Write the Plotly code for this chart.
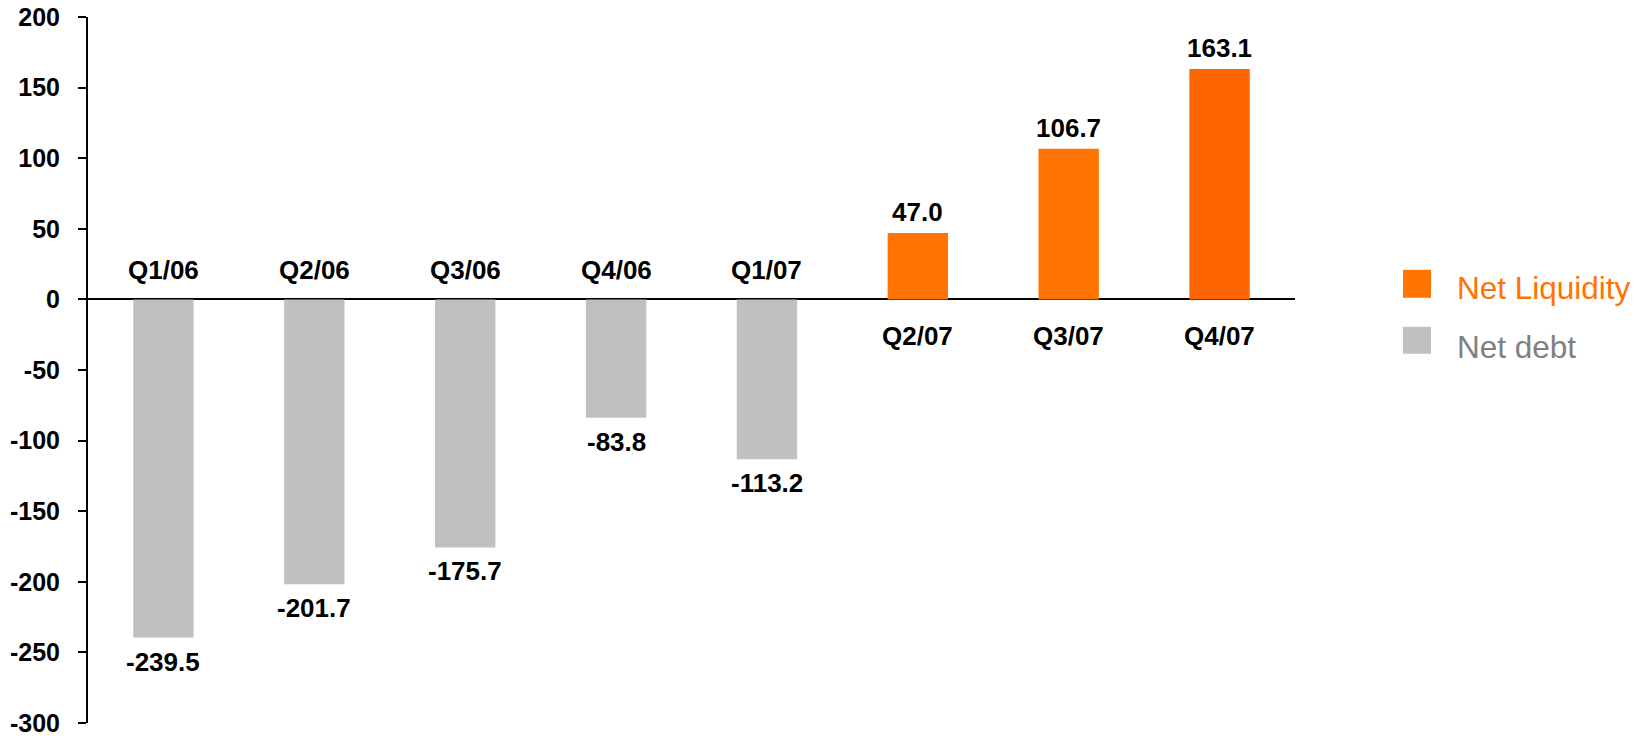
import plotly.graph_objects as go

categories = ["Q1/06", "Q2/06", "Q3/06", "Q4/06", "Q1/07", "Q2/07", "Q3/07", "Q4/07"]
net_debt = [-239.5, -201.7, -175.7, -83.8, -113.2, None, None, None]
net_liquidity = [None, None, None, None, None, 47.0, 106.7, 163.1]
liquidity_colors = ["#FF7300", "#FF7300", "#FF7300", "#FF7300", "#FF7300", "#FF7300", "#FF7300", "#FF6600"]
y_ticks = [-300, -250, -200, -150, -100, -50, 0, 50, 100, 150, 200]

GRAY = "#C0C0C0"
FONT = "Liberation Sans, Arial, Helvetica, sans-serif"

fig = go.Figure()
fig.add_trace(go.Bar(x=categories, y=net_debt, marker=dict(color=GRAY, line=dict(width=0)),
                     name="Net debt", showlegend=False, hoverinfo="x+y"))
fig.add_trace(go.Bar(x=categories, y=net_liquidity, marker=dict(color=liquidity_colors, line=dict(width=0)),
                     name="Net Liquidity", showlegend=False, hoverinfo="x+y"))

LBL = dict(family=FONT, size=26, color="black", weight="bold")
annotations = []
for i, cat in enumerate(categories):
    v = net_debt[i] if net_debt[i] is not None else net_liquidity[i]
    if v >= 0:
        annotations.append(dict(x=cat, y=v, text=f"{v:.1f}", showarrow=False, yanchor="bottom",
                                yshift=4, font=LBL))
        annotations.append(dict(x=cat, y=0, text=cat, showarrow=False, yanchor="top",
                                yshift=-20, font=LBL))
    else:
        annotations.append(dict(x=cat, y=v, text=f"{v:.1f}", showarrow=False, yanchor="top",
                                yshift=-7, font=LBL))
        annotations.append(dict(x=cat, y=0, text=cat, showarrow=False, yanchor="bottom",
                                yshift=12, font=LBL))

# legend (manual), positioned in absolute pixels converted to paper coords
L, R, T, B = 88, 1295, 17, 723.5
W, H = R - L, B - T
def px(xp):
    return (xp - L) / W
def py(yp):
    return (B - yp) / H

shapes = [
    dict(type="rect", xref="paper", yref="paper", x0=px(1403), x1=px(1431), y0=py(298), y1=py(270),
         fillcolor="#FF7500", line=dict(width=0)),
    dict(type="rect", xref="paper", yref="paper", x0=px(1403), x1=px(1431), y0=py(354), y1=py(327),
         fillcolor=GRAY, line=dict(width=0)),
]
annotations.append(dict(xref="paper", yref="paper", x=px(1455), y=py(288), text="Net Liquidity",
                        showarrow=False, xanchor="left", yanchor="middle",
                        font=dict(family=FONT, size=31.5, color="#FF7300")))
annotations.append(dict(xref="paper", yref="paper", x=px(1455), y=py(347), text="Net debt",
                        showarrow=False, xanchor="left", yanchor="middle",
                        font=dict(family=FONT, size=31.5, color="#808080")))

fig.update_layout(
    width=1641, height=738,
    margin=dict(l=L, r=1641 - R, t=T, b=738 - B, pad=0, autoexpand=False),
    plot_bgcolor="white", paper_bgcolor="white",
    barmode="relative", bargap=0.6,
    annotations=annotations, shapes=shapes,
    showlegend=False,
    xaxis=dict(range=[-0.5, 7.5], showticklabels=False, showline=False, showgrid=False,
               zeroline=False, ticks="", automargin=False),
    yaxis=dict(range=[-300, 200], tickvals=y_ticks, ticktext=[str(t) for t in y_ticks],
               automargin=False, ticklabeloverflow="allow",
               showgrid=False, zeroline=True, zerolinecolor="black", zerolinewidth=2,
               showline=True, linecolor="black", linewidth=2,
               ticks="outside", ticklen=8, tickwidth=2, tickcolor="black",
               ticklabelstandoff=13,
               tickfont=dict(family=FONT, size=25, color="black", weight="bold")),
)

fig.write_html("out.html", config={"displayModeBar": False},
               post_script="document.body.style.margin='0';document.body.style.overflow='hidden';")
